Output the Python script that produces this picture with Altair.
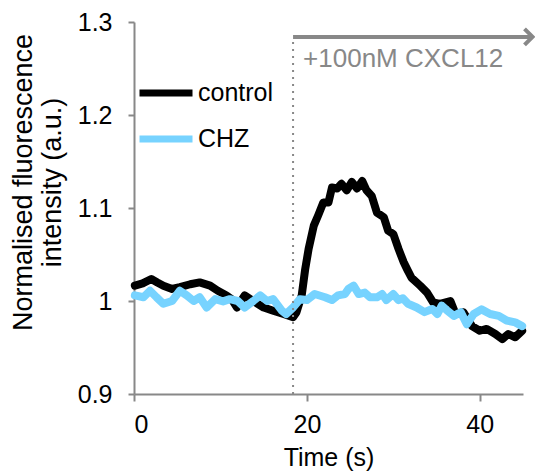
import altair as alt
import pandas as pd

# ---- data ----
control_t = [0.1, 1.0, 2.0, 2.7, 3.4, 4.4, 5.3, 6.5, 7.6, 8.8, 9.7, 10.7, 11.3, 11.9, 12.8,
             13.8, 15.0, 16.1, 17.3, 18.4, 18.8, 19.4, 19.8, 20.2, 20.8, 21.3, 21.9, 22.5,
             22.9, 23.5, 24.0, 24.6, 25.2, 25.8, 26.4, 26.9, 27.5, 28.1, 28.9, 29.4, 30.0,
             30.6, 31.2, 31.6, 32.1, 33.1, 33.9, 34.6, 35.4, 36.6, 37.2, 38.1, 39.1, 40.0,
             40.8, 41.8, 42.6, 43.3, 44.1, 44.9]
control_v = [1.0165, 1.019, 1.0237, 1.020, 1.0165, 1.013, 1.015, 1.018, 1.020, 1.0165, 1.011,
             1.006, 1.002, 0.993, 1.006, 1.000, 0.993, 0.9896, 0.986, 0.9825, 0.988, 1.006,
             1.034, 1.056, 1.081, 1.092, 1.106, 1.106, 1.122, 1.121, 1.126, 1.119, 1.128,
             1.121, 1.129, 1.119, 1.113, 1.095, 1.090, 1.0756, 1.072, 1.056, 1.0416, 1.034,
             1.025, 1.0165, 1.009, 0.9986, 0.997, 1.000, 0.986, 0.988, 0.973, 0.968, 0.970,
             0.9645, 0.959, 0.9645, 0.961, 0.968]

chz_t = [0.1, 1.1, 1.85, 2.6, 3.4, 4.4, 5.3, 6.1, 6.9, 7.6, 8.4, 9.4, 10.3, 11.1, 12.0,
         12.8, 13.8, 14.6, 15.4, 16.1, 17.1, 17.6, 18.4, 19.2, 20.0, 20.9, 22.1, 22.9,
         23.6, 24.4, 24.8, 25.4, 26.0, 26.7, 27.3, 28.1, 28.7, 29.2, 30.0, 30.6, 31.1,
         31.7, 32.7, 33.6, 34.5, 35.1, 35.6, 36.2, 37.0, 37.8, 38.5, 39.3, 40.2, 41.2,
         42.2, 43.1, 44.1, 44.9]
chz_v = [1.006, 1.004, 1.011, 1.004, 0.997, 1.000, 1.011, 1.006, 1.000, 1.004, 0.993,
         1.002, 0.9996, 1.002, 1.000, 0.993, 1.000, 1.006, 1.000, 1.002, 0.9896, 0.986,
         0.993, 1.002, 1.001, 1.0075, 1.004, 1.001, 1.006, 1.0075, 1.013, 1.0165, 1.0075,
         1.009, 1.004, 1.004, 1.0075, 1.001, 1.0075, 1.001, 1.003, 0.997, 0.993, 0.988,
         0.9914, 0.986, 0.995, 0.990, 0.984, 0.988, 0.975, 0.986, 0.991, 0.986, 0.984,
         0.979, 0.977, 0.973]

series_names = ["control", "CHZ"]
series_colors = ["#000000", "#77D3FF"]

x_ticks = [0, 20, 40]
y_ticks = [0.9, 1.0, 1.1, 1.2, 1.3]

stim_time = 18.4
arrow_end = 46.1
arrow_level = 1.284
annot_text = "+100nM CXCL12"
annot_x = 19.56
annot_y = 1.2516

FONT = "Liberation Sans"
GRAY = "#888888"

df = pd.concat([
    pd.DataFrame({"t": control_t, "v": control_v, "series": "control"}),
    pd.DataFrame({"t": chz_t, "v": chz_v, "series": "CHZ"}),
])

xscale = alt.Scale(domain=[0, 45], nice=False, zero=False)
yscale = alt.Scale(domain=[0.9, 1.3], nice=False, zero=False)

lines = alt.Chart(df).mark_line(strokeWidth=8, strokeCap="round", strokeJoin="round").encode(
    x=alt.X("t:Q", scale=xscale,
            axis=alt.Axis(values=x_ticks, title="Time (s)", labelPadding=11,
                          tickSize=7, titlePadding=8, titleFontSize=25)),
    y=alt.Y("v:Q", scale=yscale,
            axis=alt.Axis(values=y_ticks, format="~g",
                          title=["Normalised fluorescence", "intensity (a.u.)"],
                          tickSize=6, labelPadding=16, titleFontSize=27,
                          titleAngle=270, titleAlign="center", titleBaseline="middle",
                          titleX=-111, titleY=160)),
    color=alt.Color("series:N", scale=alt.Scale(domain=series_names, range=series_colors),
                    legend=alt.Legend(title=None, orient="none", legendX=2, legendY=41,
                                      symbolType="stroke", symbolSize=2809,
                                      symbolStrokeWidth=7, labelFontSize=25,
                                      labelFont=FONT, labelOffset=2, rowPadding=2)),
)

stim = alt.Chart(pd.DataFrame({"t": [stim_time], "y0": [0.9], "y1": [arrow_level]})).mark_rule(
    color=GRAY, strokeWidth=2, strokeDash=[2, 5]).encode(
    x=alt.X("t:Q", scale=xscale), y=alt.Y("y0:Q", scale=yscale), y2="y1:Q")

arrow = alt.Chart(pd.DataFrame({"t": [stim_time], "t2": [arrow_end], "y": [arrow_level]})).mark_rule(
    color=GRAY, strokeWidth=4).encode(
    x=alt.X("t:Q", scale=xscale), x2="t2:Q", y=alt.Y("y:Q", scale=yscale))

head = alt.Chart(pd.DataFrame({"t": [arrow_end], "y": [arrow_level]})).mark_point(
    shape="M-1,-1L0,0L-1,1", filled=False, color=GRAY, strokeWidth=4, size=256,
    opacity=1).encode(
    x=alt.X("t:Q", scale=xscale), y=alt.Y("y:Q", scale=yscale))

annot = alt.Chart(pd.DataFrame({"t": [annot_x], "y": [annot_y], "txt": [annot_text]})).mark_text(
    align="left", baseline="alphabetic", fontSize=26, font=FONT, color=GRAY).encode(
    x=alt.X("t:Q", scale=xscale), y=alt.Y("y:Q", scale=yscale), text="txt:N")

chart = alt.layer(lines, stim, arrow, head, annot).properties(
    width=389, height=372,
    autosize=alt.AutoSizeParams(type="none"),
    padding={"left": 126, "top": 14, "right": 12, "bottom": 80},
).configure_view(stroke=None).configure_axis(
    domainColor=GRAY, tickColor=GRAY, domainWidth=2, tickWidth=2, grid=False,
    labelFont=FONT, labelFontSize=25, labelColor="#000000",
    titleFont=FONT, titleFontWeight="normal", titleColor="#000000",
)

chart.save("out.html", embed_options={"renderer": "svg", "actions": False})
